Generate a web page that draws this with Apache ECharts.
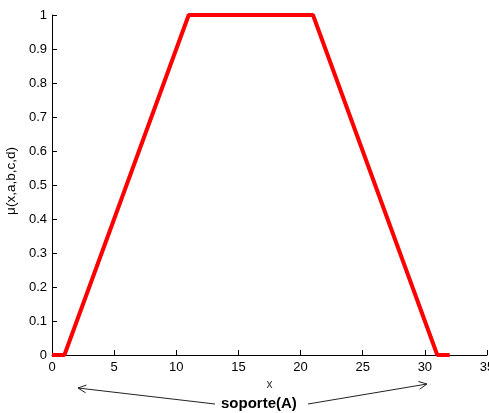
<!DOCTYPE html>
<html>
<head>
<meta charset="utf-8">
<script src="https://cdn.jsdelivr.net/npm/echarts@6/dist/echarts.min.js"></script>
<style>
  html, body { margin: 0; padding: 0; background: #fff; }
  #chart { width: 489px; height: 413px; }
</style>
</head>
<body>
<div id="chart"></div>
<script>
// Trapezoidal membership function mu(x; a, b, c, d)
const xPoints = [0, 1, 11, 21, 31, 32];
const muValues = [0, 0, 1, 1, 0, 0];
const xTicks = [0, 5, 10, 15, 20, 25, 30, 35];
const yTicks = [0, 0.1, 0.2, 0.3, 0.4, 0.5, 0.6, 0.7, 0.8, 0.9, 1];
const supportLabel = 'soporte(A)';

const chart = echarts.init(document.getElementById('chart'), null, { renderer: 'canvas' });

const font = 'Liberation Sans, Arial, Helvetica, sans-serif';

// open V arrow head at (tx, ty) pointing away from (fx, fy)
function arrow(fx, fy, tx, ty) {
  const ang = Math.atan2(ty - fy, tx - fx);
  const len = 9, spread = 0.45;
  const p1 = [tx - len * Math.cos(ang - spread), ty - len * Math.sin(ang - spread)];
  const p2 = [tx - len * Math.cos(ang + spread), ty - len * Math.sin(ang + spread)];
  const style = { stroke: '#222', lineWidth: 1, fill: null };
  return [
    { type: 'polyline', shape: { points: [[fx, fy], [tx, ty]] }, style: style },
    { type: 'polyline', shape: { points: [p1, [tx, ty], p2] }, style: style }
  ];
}

chart.setOption({
  animation: false,
  backgroundColor: '#fff',
  grid: { left: 52, right: 2, top: 15, bottom: 58, containLabel: false, outerBoundsMode: 'none' },
  xAxis: {
    type: 'value',
    min: xTicks[0],
    max: xTicks[xTicks.length - 1],
    interval: 5,
    name: 'x',
    nameLocation: 'middle',
    nameGap: 23,
    nameTextStyle: { color: '#333', fontSize: 12, fontFamily: font },
    axisLine: { show: true, onZero: false, lineStyle: { color: '#000', width: 1 } },
    axisTick: { show: true, inside: true, length: 5, lineStyle: { color: '#000' } },
    axisLabel: { margin: 6, color: '#000', fontSize: 13, fontFamily: font },
    splitLine: { show: false }
  },
  yAxis: {
    type: 'value',
    min: yTicks[0],
    max: yTicks[yTicks.length - 1],
    interval: 0.1,
    name: 'μ(x,a,b,c,d)',
    nameLocation: 'middle',
    nameGap: 25,
    nameTextStyle: { color: '#000', fontSize: 13.5, fontFamily: font, padding: [0, 0, 0, 8] },
    axisLine: { show: true, onZero: false, lineStyle: { color: '#000', width: 1 } },
    axisTick: { show: true, inside: true, length: 5, lineStyle: { color: '#000' } },
    axisLabel: {
      margin: 5, color: '#000', fontSize: 13, fontFamily: font,
      formatter: v => String(Math.round(v * 10) / 10)
    },
    splitLine: { show: false }
  },
  series: [{
    type: 'line',
    data: xPoints.map((x, i) => [x, muValues[i]]),
    symbol: 'none',
    clip: false,
    lineStyle: { color: '#ff0000', width: 4 },
    z: 5
  }],
  graphic: [
    ...arrow(215, 404, 78, 388),
    ...arrow(308, 404, 427, 384),
    {
      type: 'text',
      left: 221, top: 396,
      style: { text: supportLabel, fill: '#000', font: 'bold 15px ' + font }
    }
  ]
});
</script>
</body>
</html>
